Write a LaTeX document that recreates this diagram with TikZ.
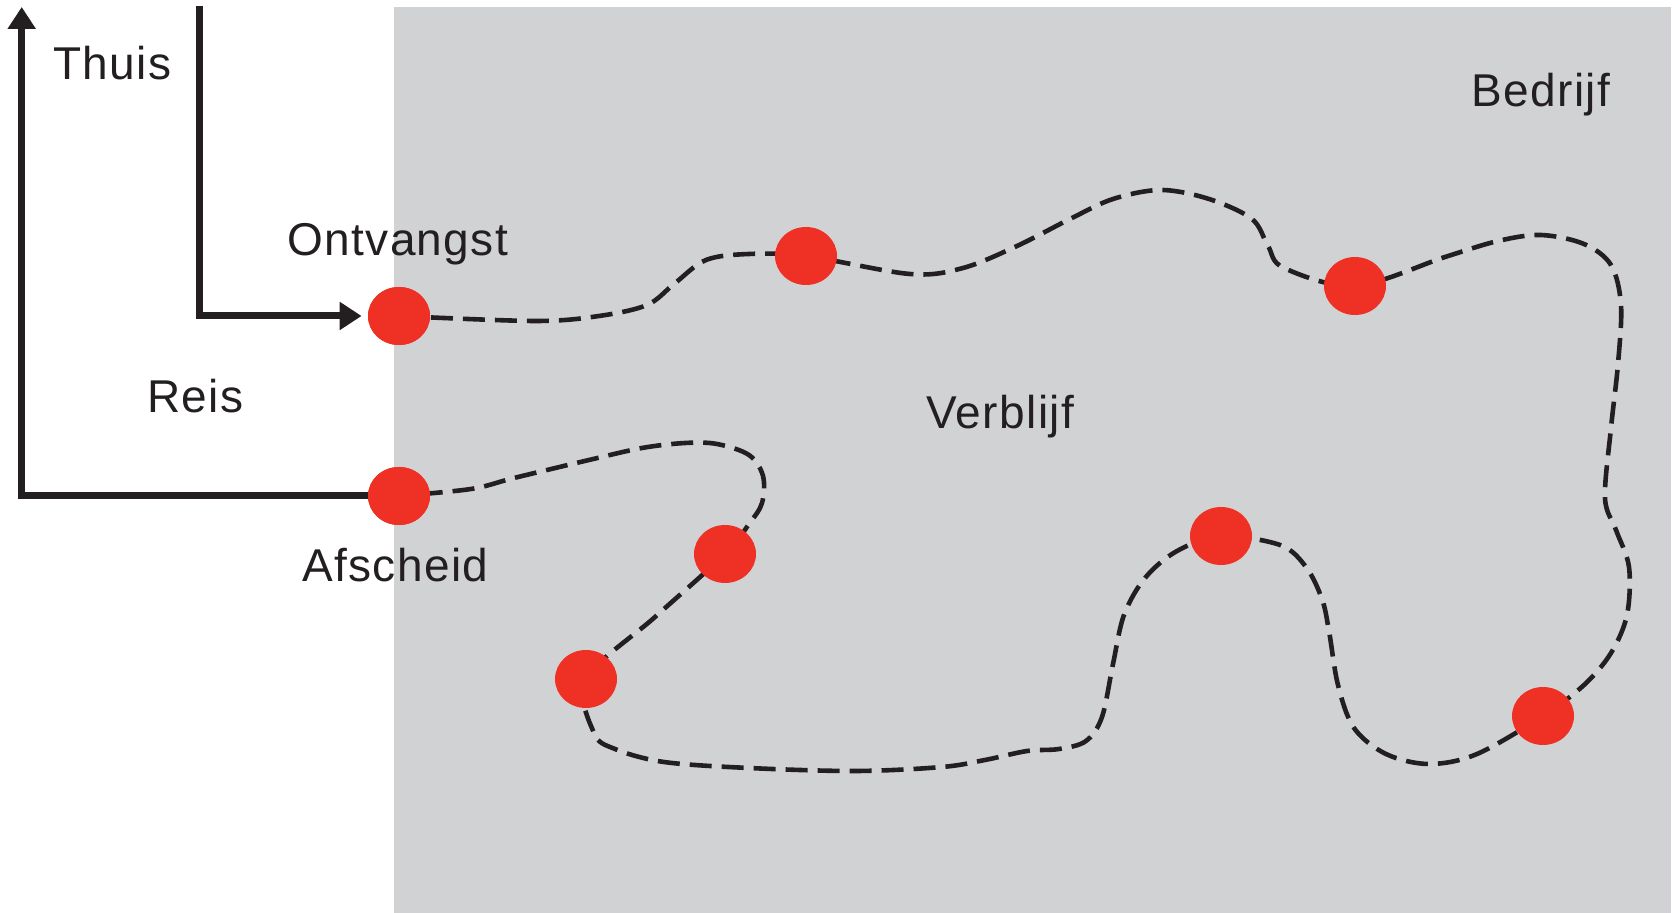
\documentclass[tikz,border=0pt]{standalone}
\usepackage{fontspec}
\setmainfont{Liberation Sans}[LetterSpace=3]
\usetikzlibrary{arrows.meta,shapes.geometric}
\pgfdeclarelayer{bg}
\pgfsetlayers{bg,main}
\definecolor{bgGray}{HTML}{D1D2D4}
\definecolor{dotRed}{HTML}{EE3124}
\definecolor{inkBlack}{HTML}{231F20}
\begin{document}
\begin{tikzpicture}[x=0.5pt,y=-0.5pt,
  dot/.style={ellipse, fill=dotRed, minimum width=31pt, minimum height=29pt, inner sep=0pt},
  route/.style={draw=inkBlack, line width=2.3pt, dash pattern=on 11pt off 5pt},
  journey/.style={draw=inkBlack, line width=3.5pt},
  tiphead/.style={-{Triangle[length=11pt,width=13.5pt]}},
  txt/.style={font=\fontsize{23}{27}\selectfont, text=inkBlack, inner sep=0pt, anchor=base west}]
\useasboundingbox (0,0) rectangle (1678,913);

% dots
\node[dot] (d1) at (399,316) {};
\node[dot] (d2) at (806,256) {};
\node[dot] (d3) at (1355,286) {};
\node[dot] (d4) at (399,496) {};
\node[dot] (d5) at (725,554) {};
\node[dot] (d6) at (586,679) {};
\node[dot] (d7) at (1221,536) {};
\node[dot] (d8) at (1543,716) {};

\begin{pgfonlayer}{bg}
  \fill[bgGray] (394,7) rectangle (1671,913);
  \draw[route] plot[smooth, tension=0.55] coordinates {
    (d1.center) (535,321) (599,316) (647,305) (674,284) (706,260) (749,254)
    (d2.center) (910,274) (963,268) (1017,246) (1070,219) (1113,199) (1161,190)
    (1209,199) (1252,219) (1268,246) (1284,268)
    (d3.center) (1445,257) (1498,241) (1541,235) (1584,244) (1611,265) (1621,305)
    (1618,364) (1611,428) (1605,498) (1616,530) (1629,567) (1627,615) (1611,653) (1584,685)
    (d8.center) (1477,754) (1429,764) (1386,754) (1354,728) (1338,685) (1329,631)
    (1322,599) (1306,567) (1280,545)
    (d7.center) (1177,551) (1145,578) (1124,615) (1113,664) (1102,717) (1086,741)
    (1059,749) (1027,751) (985,760) (942,767) (856,771) (749,768) (664,762) (615,749)
    (594,733)
    (d6.center) (655,617)
    (d5.center) (749,524) (762,503) (763,476) (749,455) (717,444) (685,443) (642,448)
    (589,460) (514,478) (471,489)
    (d4.center)};
\end{pgfonlayer}

% black journey lines
\coordinate (homeUp) at (21.7,7);
\coordinate (toTop) at (199,6);
\draw[journey,tiphead] (d4.west) -| (homeUp);
\draw[journey,tiphead,shorten >=3pt] (toTop) |- (d1.west);

% redraw dots on top
\foreach \n in {d1,d4} {\fill[dotRed] (\n.center) ellipse (15.5pt and 14.5pt);}

% labels
\node[txt] (thuis) at (53,80) {Thuis};
\node[txt] (ontv) at (287,256) {Ontvangst};
\node[txt] (reis) at (147,413) {Reis};
\node[txt] (afsch) at (302,582) {Afscheid};
\node[txt] (verbl) at (926,429) {Verblijf};
\node[txt] (bedr) at (1471,107) {Bedrijf};
\end{tikzpicture}
\end{document}
